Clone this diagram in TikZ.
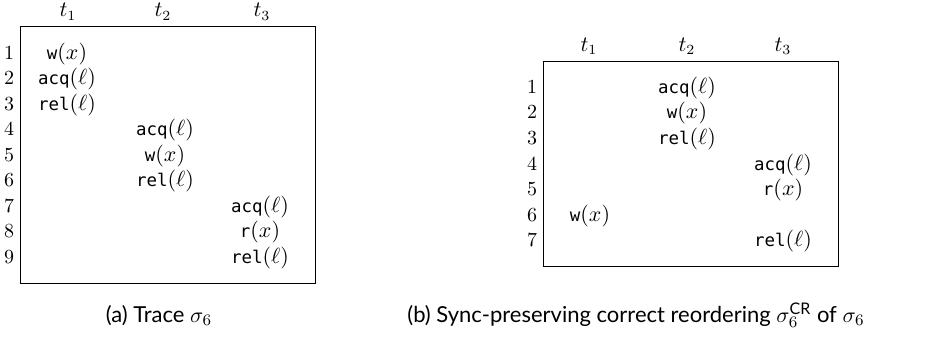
\documentclass[tikz,border=0pt]{standalone}
\usepackage{fontspec}
\setmonofont{DejaVu Sans Mono}[Scale=0.83]
\newfontfamily\capfont{Lato}
\begin{document}
\begin{tikzpicture}[x=0.5pt,y=-0.5pt,
  every node/.style={inner sep=0pt,outer sep=0pt},
  evt/.style={anchor=base,font=\fontsize{10.5}{12}\selectfont},
  rownum/.style={anchor=base east,font=\fontsize{10}{12}\selectfont},
  hdr/.style={anchor=base,font=\fontsize{10.5}{12}\selectfont},
  captext/.style={anchor=base,font=\capfont\fontsize{11}{13}\selectfont},
  frame/.style={draw,line width=0.5pt}]
\useasboundingbox (0,0) rectangle (931,337);
\newcommand{\tw}{\texttt{w}$(x)$}
\newcommand{\tr}{\texttt{r}$(x)$}
\newcommand{\tacq}{\texttt{acq}$(\ell)$}
\newcommand{\trel}{\texttt{rel}$(\ell)$}
% ---------- (a) ----------
\draw[frame] (20,26) rectangle (315,283);
\node[hdr] (a-t1) at (68,17) {$t_1$};
\node[hdr] (a-t2) at (163,17) {$t_2$};
\node[hdr] (a-t3) at (262,17) {$t_3$};
\foreach \i in {1,...,9}{
  \node[rownum] (a-r\i) at (14,{59.3+25.5*(\i-1)}) {\i};
}
\node[evt] (a-e1) at (67,59.3) {\tw};
\node[evt] (a-e2) at (67,84.8) {\tacq};
\node[evt] (a-e3) at (67,110.3) {\trel};
\node[evt] (a-e4) at (165,135.8) {\tacq};
\node[evt] (a-e5) at (165,161.3) {\tw};
\node[evt] (a-e6) at (165,186.8) {\trel};
\node[evt] (a-e7) at (260,212.3) {\tacq};
\node[evt] (a-e8) at (260,237.8) {\tr};
\node[evt] (a-e9) at (260,263.3) {\trel};
\node[captext] (capa) at (159,322) {(a) Trace $\sigma_6$};
% ---------- (b) ----------
\draw[frame] (543,61) rectangle (838,266);
\node[hdr] (b-t1) at (589,51.5) {$t_1$};
\node[hdr] (b-t2) at (687,51.5) {$t_2$};
\node[hdr] (b-t3) at (783,51.5) {$t_3$};
\foreach \i in {1,...,7}{
  \node[rownum] (b-r\i) at (537,{93.3+25.6*(\i-1)}) {\i};
}
\node[evt] (b-e1) at (687,93.3) {\tacq};
\node[evt] (b-e2) at (687,118.9) {\tw};
\node[evt] (b-e3) at (687,144.5) {\trel};
\node[evt] (b-e4) at (783,170.1) {\tacq};
\node[evt] (b-e5) at (783,195.7) {\tr};
\node[evt] (b-e6) at (590,221.3) {\tw};
\node[evt] (b-e7) at (783,246.9) {\trel};
\node[captext] (capb) at (636,322) {(b) Sync-preserving correct reordering $\sigma_6^{\mbox{\capfont\fontsize{8}{9}\selectfont CR}}$ of $\sigma_6$};
\end{tikzpicture}
\end{document}
